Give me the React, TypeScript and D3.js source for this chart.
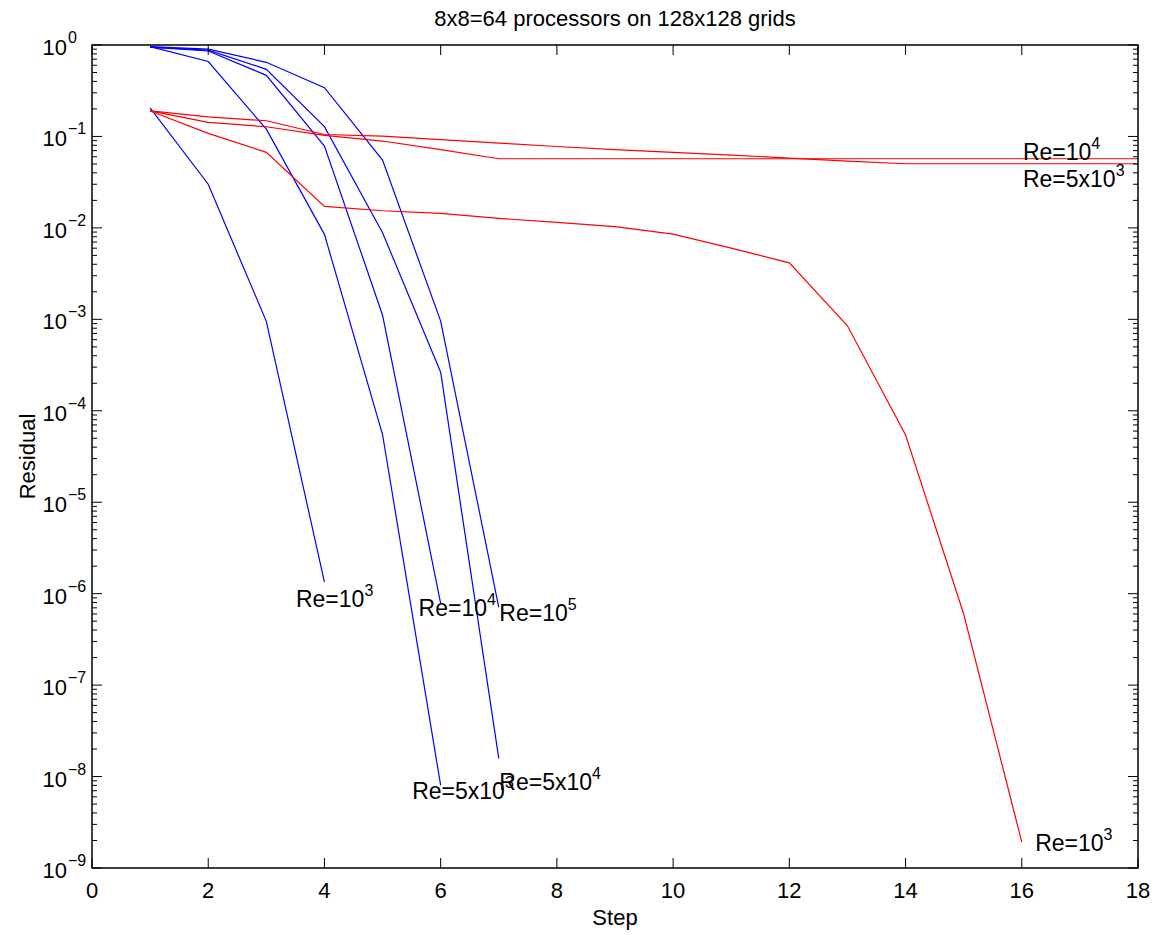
import React from 'react';
import * as d3 from 'd3';

const title = '8x8=64 processors on 128x128 grids';

// blue curves
const blueRe1e3 = [0.205, 0.030, 9.5e-4, 1.34e-6];
const blueRe5e3 = [0.96, 0.66, 0.12, 0.0085, 5.5e-5, 8e-9];
const blueRe1e4 = [0.95, 0.86, 0.466, 0.0785, 0.00111, 7.85e-7];
const blueRe5e4 = [0.95, 0.88, 0.542, 0.128, 0.00884, 2.64e-4, 1.58e-8];
const blueRe1e5 = [0.96, 0.9, 0.647, 0.341, 0.0552, 9.55e-4, 7.1e-7];

// red curves
const redRe1e3 = [0.19, 0.108, 0.067, 0.0172, 0.0154, 0.0144, 0.0127, 0.0115, 0.0103, 0.00855, 0.006, 0.00415, 8.5e-4, 5.45e-5, 6.0e-7, 1.92e-9];
const redRe5e3 = [0.19, 0.164, 0.1485, 0.105, 0.101, 0.0925, 0.0847, 0.0776, 0.0719, 0.067, 0.0626, 0.058, 0.0538, 0.0503, 0.0503, 0.0503, 0.0503, 0.0503];
const redRe1e4 = [0.19, 0.1426, 0.1277, 0.1028, 0.0891, 0.0719, 0.057, 0.057, 0.057, 0.057, 0.057, 0.057, 0.057, 0.057, 0.057, 0.057, 0.057, 0.057];

const series = [
  { values: blueRe1e3, color: '#0000ff' },
  { values: blueRe5e3, color: '#0000ff' },
  { values: blueRe1e4, color: '#0000ff' },
  { values: blueRe5e4, color: '#0000ff' },
  { values: blueRe1e5, color: '#0000ff' },
  { values: redRe1e3, color: '#ff0000' },
  { values: redRe5e3, color: '#ff0000' },
  { values: redRe1e4, color: '#ff0000' },
];

// text labels: base text, superscript, position in (step, residual)
const labels = [
  { base: 'Re=10', sup: '3', step: 3.51, value: 7.1e-7 },
  { base: 'Re=10', sup: '4', step: 5.62, value: 5.7e-7 },
  { base: 'Re=10', sup: '5', step: 7.01, value: 5.0e-7 },
  { base: 'Re=5x10', sup: '3', step: 5.51, value: 5.7e-9 },
  { base: 'Re=5x10', sup: '4', step: 7.01, value: 7.2e-9 },
  { base: 'Re=10', sup: '4', step: 16.02, value: 0.0552 },
  { base: 'Re=5x10', sup: '3', step: 16.02, value: 0.0277 },
  { base: 'Re=10', sup: '3', step: 16.23, value: 1.52e-9 },
];

const xTicks = [0, 2, 4, 6, 8, 10, 12, 14, 16, 18];
const yExponents = [0, -1, -2, -3, -4, -5, -6, -7, -8, -9];

const W = 1157;
const H = 935;
const left = 92;
const right = 1138;
const top = 45;
const bottom = 868;
const font = '"Liberation Sans", Arial, Helvetica, sans-serif';

export default function App() {
  const x = d3.scaleLinear().domain([0, 18]).range([left, right]);
  const y = d3.scaleLog().domain([1e-9, 1]).range([bottom, top]);

  const line = d3
    .line<number>()
    .x((d, i) => x(i + 1))
    .y((d) => y(d));

  const minorTicks: number[] = [];
  yExponents.slice(1).forEach((e) => {
    for (let k = 2; k <= 9; k++) minorTicks.push(k * Math.pow(10, e));
  });

  return (
    <svg
      width={W}
      height={H}
      style={{ position: 'absolute', left: 0, top: 0, background: '#fff' }}
      fontFamily={font}
    >
      <rect x={0} y={0} width={W} height={H} fill="#fff" />

      {series.map((s, i) => (
        <path key={i} d={line(s.values) || ''} fill="none" stroke={s.color} strokeWidth={1.2} />
      ))}

      {/* x ticks, bottom and top, pointing inward */}
      {xTicks.map((t) => (
        <g key={'x' + t}>
          <line x1={x(t)} x2={x(t)} y1={bottom} y2={bottom - 10} stroke="#000" strokeWidth={1} />
          <line x1={x(t)} x2={x(t)} y1={top} y2={top + 10} stroke="#000" strokeWidth={1} />
          <text x={x(t)} y={898} textAnchor="middle" fontSize={22}>
            {t}
          </text>
        </g>
      ))}

      {/* y major ticks */}
      {yExponents.map((e) => {
        const py = y(Math.pow(10, e));
        return (
          <g key={'y' + e}>
            <line x1={left} x2={left + 10} y1={py} y2={py} stroke="#000" strokeWidth={1} />
            <line x1={right} x2={right - 10} y1={py} y2={py} stroke="#000" strokeWidth={1} />
            <text x={67} y={py + 10} textAnchor="end" fontSize={22}>
              10
            </text>
            <text x={68} y={py - 2} fontSize={16}>
              {e === 0 ? '0' : '\u2212' + Math.abs(e)}
            </text>
          </g>
        );
      })}

      {/* y minor ticks */}
      {minorTicks.map((v, i) => (
        <g key={'m' + i}>
          <line x1={left} x2={left + 5} y1={y(v)} y2={y(v)} stroke="#000" strokeWidth={1} />
          <line x1={right} x2={right - 5} y1={y(v)} y2={y(v)} stroke="#000" strokeWidth={1} />
        </g>
      ))}

      <rect
        x={left}
        y={top}
        width={right - left}
        height={bottom - top}
        fill="none"
        stroke="#000"
        strokeWidth={1.5}
      />

      {labels.map((l, i) => (
        <text key={'l' + i} x={x(l.step)} y={y(l.value)} fontSize={23} fill="#000">
          <tspan>{l.base}</tspan>
          <tspan dy={-11} fontSize={16}>
            {l.sup}
          </tspan>
        </text>
      ))}

      <text x={(left + right) / 2} y={26} textAnchor="middle" fontSize={22}>
        {title}
      </text>
      <text x={(left + right) / 2} y={925} textAnchor="middle" fontSize={22}>
        Step
      </text>
      <text
        transform={`translate(${35},${(top + bottom) / 2}) rotate(-90)`}
        textAnchor="middle"
        fontSize={22}
      >
        Residual
      </text>
    </svg>
  );
}
